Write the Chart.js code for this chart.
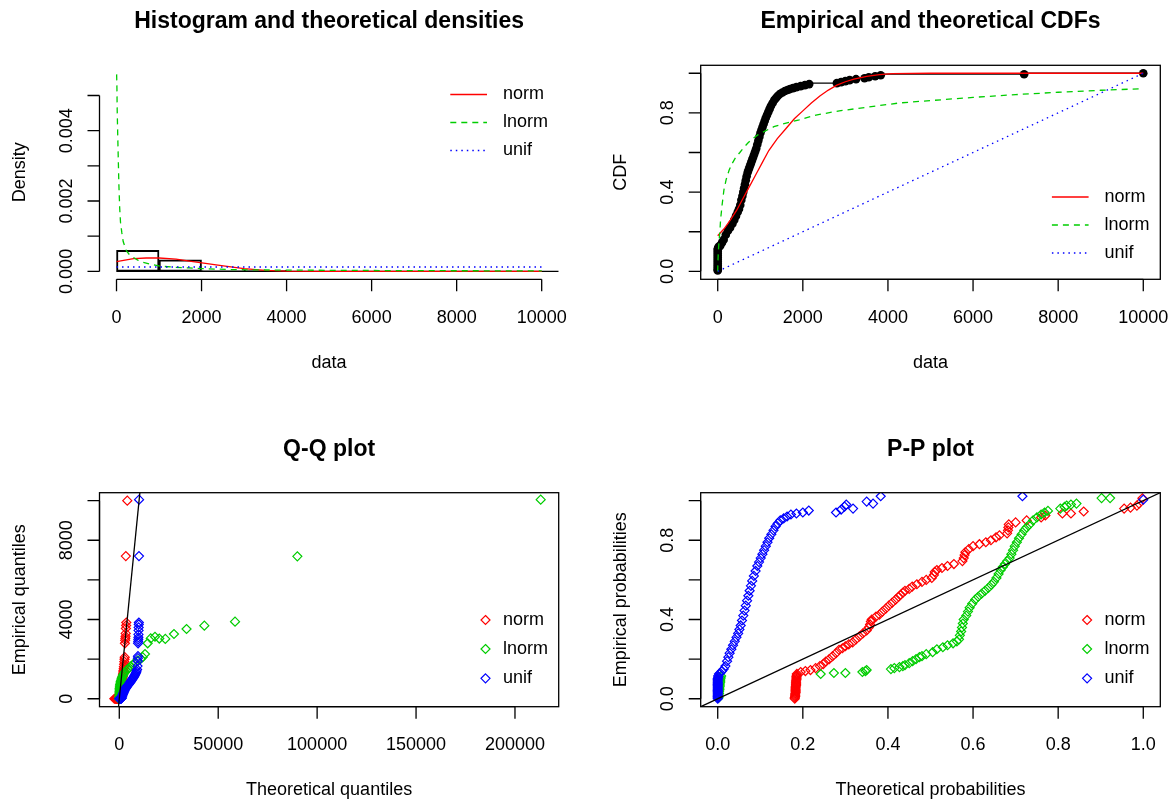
<!DOCTYPE html>
<html>
<head>
<meta charset="utf-8">
<script src="https://cdn.jsdelivr.net/npm/chart.js@4.4.1/dist/chart.umd.min.js"></script>
<style>
  html, body { margin: 0; padding: 0; background: #fff; }
  #page { position: relative; width: 1173px; height: 805px; overflow: hidden; background: #fff; }
  #page canvas { position: absolute; }
</style>
</head>
<body>
<div id="page">
  <canvas id="panelDens" width="586" height="420" style="left:0;top:0"></canvas>
  <canvas id="panelCdf" width="587" height="420" style="left:586px;top:0"></canvas>
  <canvas id="panelQQ" width="586" height="385" style="left:0;top:420px"></canvas>
  <canvas id="panelPP" width="587" height="385" style="left:586px;top:420px"></canvas>
</div>
<script>
// ---- values ----
const distNames = ['norm', 'lnorm', 'unif'];

// histogram: bin edges and bar densities
const histBreaks = [0, 1000, 2000, 3000, 4000, 5000, 6000, 7000, 8000, 9000, 10000];
const histDensity = [0.0006, 0.00033, 0.00002, 0.00003, 0, 0, 0, 0.000005, 0, 0.000005];

// fitted densities [data, density]
const densNorm = [[0, 0.00028], [200, 0.00032], [400, 0.00036], [700, 0.00038], [1000, 0.00038], [1400, 0.00035],
  [1800, 0.00028], [2300, 0.00019], [2600, 0.00014], [3000, 0.00008], [3500, 0.00003], [4000, 0.00001], [5000, 0], [10000, 0]];
const densLnorm = [[3, 0.0056], [10, 0.0052], [16, 0.0046], [30, 0.0038], [55, 0.0025], [75, 0.0018], [94, 0.0014],
  [125, 0.0011], [157, 0.00085], [200, 0.0007], [235, 0.00058], [300, 0.00048], [392, 0.0004], [500, 0.00032],
  [627, 0.00026], [784, 0.00021], [1020, 0.00015], [1333, 0.00012], [1700, 0.0001], [1961, 0.00008], [2745, 0.00005],
  [3500, 0.00004], [5000, 0.00003], [7000, 0.00002], [10000, 0.000015]];
const densUnif = [[0, 0.000125], [10000, 0.000125]];
const densBase = [[0, 0], [10400, 0]];

// empirical CDF [data, probability]
const ecdfPoints = [[0, 0.005], [0, 0.01], [0, 0.02], [0, 0.03], [0, 0.04], [0, 0.05], [0, 0.06], [0, 0.07], [0, 0.08],
  [0, 0.09], [0, 0.1], [0, 0.11], [5, 0.115], [15, 0.12], [30, 0.125], [60, 0.13], [100, 0.145], [140, 0.16], [190, 0.185],
  [240, 0.205], [290, 0.22], [345, 0.24], [390, 0.26], [430, 0.28], [470, 0.3], [500, 0.315], [530, 0.335], [555, 0.36],
  [580, 0.38], [600, 0.4], [620, 0.42], [640, 0.44], [660, 0.46], [680, 0.48], [705, 0.5], [730, 0.515], [755, 0.53],
  [780, 0.545], [805, 0.56], [830, 0.575], [855, 0.59], [880, 0.605], [905, 0.62], [930, 0.64], [955, 0.66], [980, 0.68],
  [1005, 0.7], [1030, 0.715], [1055, 0.73], [1080, 0.745], [1105, 0.76], [1130, 0.775], [1160, 0.79], [1190, 0.805],
  [1220, 0.82], [1250, 0.835], [1290, 0.85], [1330, 0.865], [1370, 0.875], [1410, 0.885], [1460, 0.895], [1520, 0.903],
  [1580, 0.91], [1640, 0.915], [1700, 0.92], [1770, 0.925], [1850, 0.93], [1950, 0.935], [2050, 0.94], [2150, 0.945],
  [2800, 0.95], [2900, 0.955], [3000, 0.96], [3100, 0.965], [3250, 0.97], [3450, 0.975], [3550, 0.98], [3700, 0.985],
  [3830, 0.99], [7200, 0.995], [10000, 1.0]];

// fitted CDFs [data, probability]
const cdfNorm = [[0, 0.18], [150, 0.215], [300, 0.26], [450, 0.31], [600, 0.37], [750, 0.43], [900, 0.49], [1050, 0.55],
  [1200, 0.61], [1400, 0.67], [1600, 0.72], [1800, 0.77], [2000, 0.81], [2200, 0.85], [2400, 0.885], [2600, 0.915],
  [2800, 0.94], [3000, 0.957], [3200, 0.97], [3500, 0.984], [3800, 0.993], [4100, 0.998], [5000, 1], [10000, 1]];
const cdfLnorm = [[0, 0], [5, 0.05], [15, 0.1], [30, 0.15], [50, 0.2], [67, 0.26], [100, 0.33], [145, 0.41], [200, 0.465],
  [267, 0.51], [340, 0.545], [424, 0.576], [520, 0.6], [620, 0.627], [720, 0.65], [816, 0.669], [950, 0.69], [1130, 0.71],
  [1320, 0.73], [1523, 0.744], [1916, 0.765], [2309, 0.789], [2858, 0.81], [3485, 0.828], [4270, 0.85], [5000, 0.862],
  [6000, 0.878], [7000, 0.892], [8000, 0.904], [9000, 0.914], [10000, 0.922]];
const cdfUnif = [[0, 0], [10000, 1]];

// Q-Q plot [theoretical quantile, empirical quantile]
const qqNorm = [[-2500, 0], [-2100, 0], [-1800, 0], [-1600, 0], [-1400, 0], [-1250, 5], [-1100, 5], [-950, 8], [-800, 10],
  [-650, 15], [-500, 20], [-350, 25], [-250, 30], [-150, 60], [-50, 100], [50, 140], [150, 190], [250, 240], [350, 290],
  [450, 340], [550, 400], [650, 460], [750, 520], [850, 580], [950, 640], [1050, 700], [1150, 760], [1250, 820], [1350, 880],
  [1450, 940], [1550, 1000], [1650, 1060], [1750, 1130], [1850, 1200], [1950, 1270], [2050, 1350], [2150, 1430],
  [2250, 1520], [2350, 1620], [2450, 1740], [2550, 1870], [2650, 2000], [2750, 2100], [2850, 2800], [2950, 2950],
  [3050, 3050], [3150, 3150], [3250, 3300], [3350, 3550], [3450, 3700], [3550, 3850], [3300, 7200], [4050, 10000]];
const qqLnorm = [[0, 0], [1, 5], [3, 10], [6, 15], [10, 20], [15, 25], [20, 30], [30, 80], [45, 150], [60, 220], [80, 300],
  [110, 380], [150, 450], [200, 520], [270, 590], [350, 650], [450, 720], [570, 790], [720, 860], [900, 930], [1100, 1000],
  [1350, 1070], [1650, 1140], [2000, 1210], [2400, 1280], [2900, 1350], [3500, 1420], [4200, 1490], [5000, 1560],
  [5900, 1640], [6900, 1730], [8000, 1830], [9200, 1930], [10800, 2010], [11800, 2100], [13000, 2260], [14350, 2800],
  [15870, 3050], [18050, 3130], [20220, 3040], [23260, 3020], [27650, 3270], [34000, 3520], [43000, 3690], [58500, 3890],
  [90000, 7190], [213000, 10050]];
const qqUnif = [[0, 0], [150, 0], [300, 0], [450, 2], [600, 4], [750, 6], [900, 10], [1050, 15], [1200, 30], [1350, 90],
  [1500, 140], [1650, 190], [1800, 230], [2000, 270], [2200, 320], [2400, 370], [2600, 410], [2800, 450], [3000, 490],
  [3200, 520], [3400, 550], [3600, 580], [3800, 610], [4000, 640], [4250, 670], [4500, 700], [4750, 730], [5000, 760],
  [5250, 800], [5500, 830], [5750, 860], [6000, 900], [6250, 940], [6500, 980], [6750, 1010], [7000, 1050], [7250, 1090],
  [7500, 1130], [7750, 1180], [8000, 1220], [8250, 1270], [8500, 1330], [8750, 1400], [9000, 1480], [9200, 1650],
  [9350, 1900], [9400, 2050], [9450, 2150], [9500, 2800], [9550, 2900], [9600, 3000], [9650, 3100], [9700, 3250],
  [9750, 3450], [9800, 3600], [9850, 3750], [9900, 3850], [9950, 7200], [10000, 10050]];
const qqLine = [[-400, -400], [10500, 10500]];

// P-P plot [theoretical probability, empirical probability]
const ppNorm = [[0.181, 0], [0.181, 0.006], [0.182, 0.012], [0.182, 0.018], [0.182, 0.024], [0.183, 0.03], [0.183, 0.036],
  [0.183, 0.042], [0.183, 0.048], [0.183, 0.054], [0.183, 0.06], [0.184, 0.066], [0.184, 0.072], [0.184, 0.078],
  [0.184, 0.084], [0.184, 0.09], [0.185, 0.096], [0.185, 0.102], [0.185, 0.108], [0.185, 0.114], [0.186, 0.12],
  [0.186, 0.126], [0.195, 0.135], [0.206, 0.14], [0.218, 0.145], [0.23, 0.155], [0.24, 0.165], [0.248, 0.175],
  [0.254, 0.188], [0.262, 0.2], [0.27, 0.215], [0.278, 0.23], [0.285, 0.247], [0.293, 0.255], [0.3, 0.265], [0.308, 0.275],
  [0.317, 0.285], [0.325, 0.3], [0.333, 0.315], [0.341, 0.33], [0.35, 0.345], [0.355, 0.36], [0.358, 0.375], [0.36, 0.39],
  [0.362, 0.4], [0.372, 0.415], [0.38, 0.425], [0.387, 0.44], [0.395, 0.455], [0.402, 0.47], [0.41, 0.485], [0.418, 0.5],
  [0.425, 0.515], [0.43, 0.525], [0.435, 0.535], [0.44, 0.545], [0.45, 0.555], [0.457, 0.566], [0.468, 0.578],
  [0.48, 0.59], [0.49, 0.6], [0.503, 0.61], [0.508, 0.625], [0.51, 0.64], [0.515, 0.65], [0.527, 0.66], [0.54, 0.67],
  [0.555, 0.68], [0.575, 0.695], [0.578, 0.71], [0.58, 0.725], [0.582, 0.74], [0.59, 0.755], [0.6, 0.77], [0.615, 0.78],
  [0.63, 0.79], [0.642, 0.8], [0.654, 0.815], [0.662, 0.825], [0.68, 0.835], [0.682, 0.85], [0.683, 0.865], [0.684, 0.88],
  [0.7, 0.89], [0.726, 0.9], [0.76, 0.915], [0.77, 0.925], [0.81, 0.935], [0.83, 0.935], [0.86, 0.945], [0.955, 0.96],
  [0.97, 0.965], [0.985, 0.975], [0.99, 0.985], [0.998, 1.012]];
const ppLnorm = [[0.002, 0.005], [0.002, 0.015], [0.003, 0.025], [0.003, 0.035], [0.004, 0.045], [0.004, 0.055],
  [0.005, 0.065], [0.005, 0.075], [0.006, 0.085], [0.006, 0.095], [0.007, 0.105], [0.008, 0.115], [0.242, 0.125],
  [0.273, 0.13], [0.3, 0.13], [0.34, 0.135], [0.347, 0.14], [0.35, 0.145], [0.407, 0.15], [0.415, 0.155], [0.427, 0.16],
  [0.435, 0.165], [0.44, 0.17], [0.45, 0.18], [0.458, 0.19], [0.466, 0.2], [0.474, 0.21], [0.48, 0.215], [0.49, 0.225],
  [0.505, 0.235], [0.515, 0.25], [0.529, 0.26], [0.54, 0.27], [0.553, 0.28], [0.562, 0.29], [0.567, 0.3], [0.569, 0.32],
  [0.572, 0.34], [0.574, 0.36], [0.576, 0.38], [0.578, 0.4], [0.584, 0.42], [0.588, 0.44], [0.592, 0.46], [0.598, 0.48],
  [0.605, 0.5], [0.612, 0.515], [0.62, 0.53], [0.628, 0.545], [0.636, 0.56], [0.643, 0.575], [0.649, 0.59], [0.655, 0.61],
  [0.66, 0.63], [0.665, 0.65], [0.67, 0.665], [0.675, 0.68], [0.68, 0.695], [0.686, 0.71], [0.69, 0.73], [0.694, 0.75],
  [0.698, 0.77], [0.703, 0.79], [0.708, 0.81], [0.714, 0.83], [0.72, 0.85], [0.726, 0.865], [0.733, 0.88], [0.741, 0.9],
  [0.75, 0.915], [0.76, 0.93], [0.768, 0.94], [0.776, 0.948], [0.805, 0.96], [0.815, 0.968], [0.82, 0.975], [0.83, 0.98],
  [0.843, 0.985], [0.902, 1.013], [0.922, 1.013]];
const ppUnif = [[0, 0], [0, 0.006], [0, 0.012], [0, 0.018], [0, 0.024], [0, 0.03], [0, 0.036], [0, 0.042], [0, 0.048],
  [0, 0.054], [0, 0.06], [0, 0.066], [0, 0.072], [0, 0.078], [0, 0.084], [0, 0.09], [0, 0.096], [0, 0.102], [0.001, 0.108],
  [0.001, 0.115], [0.003, 0.125], [0.006, 0.13], [0.01, 0.14], [0.014, 0.15], [0.018, 0.165], [0.022, 0.19], [0.025, 0.21],
  [0.028, 0.23], [0.032, 0.25], [0.036, 0.27], [0.04, 0.29], [0.044, 0.31], [0.048, 0.33], [0.051, 0.35], [0.054, 0.37],
  [0.057, 0.395], [0.06, 0.42], [0.063, 0.445], [0.066, 0.47], [0.069, 0.495], [0.072, 0.52], [0.075, 0.545], [0.078, 0.57],
  [0.081, 0.595], [0.085, 0.62], [0.089, 0.645], [0.093, 0.67], [0.097, 0.69], [0.101, 0.71], [0.105, 0.73], [0.109, 0.75],
  [0.113, 0.77], [0.117, 0.79], [0.121, 0.81], [0.126, 0.83], [0.131, 0.85], [0.136, 0.87], [0.141, 0.885], [0.147, 0.9],
  [0.155, 0.91], [0.163, 0.92], [0.172, 0.93], [0.185, 0.935], [0.2, 0.94], [0.214, 0.95], [0.278, 0.94], [0.29, 0.955],
  [0.298, 0.97], [0.302, 0.98], [0.318, 0.96], [0.35, 0.995], [0.365, 0.985], [0.383, 1.022], [0.716, 1.022], [1.0, 1.005]];
const ppLine = [[-0.05, -0.05], [1.05, 1.05]];

// axis ticks and the labels R kept
const dataTicks = [0, 2000, 4000, 6000, 8000, 10000];
const dataTickLabels = ['0', '2000', '4000', '6000', '8000', '10000'];
const densTicks = [0, 0.001, 0.002, 0.003, 0.004, 0.005];
const densTickLabels = ['0.000', '', '0.002', '', '0.004', ''];
const probTicks = [0, 0.2, 0.4, 0.6, 0.8, 1.0];
const probTickLabelsY = ['0.0', '', '0.4', '', '0.8', ''];
const probTickLabelsX = ['0.0', '0.2', '0.4', '0.6', '0.8', '1.0'];
const qqXTicks = [0, 50000, 100000, 150000, 200000];
const qqXTickLabels = ['0', '50000', '100000', '150000', '200000'];
const qqYTicks = [0, 2000, 4000, 6000, 8000, 10000];
const qqYTickLabels = ['0', '', '4000', '', '8000', ''];

// ---- styling ----
const COLORS = ['#ff0000', '#00cd00', '#0000ff'];
const DASHES = [[], [6, 5], [1.5, 4]];
const FONT = '"Liberation Sans", Arial, Helvetica, sans-serif';
const LW = 1.3;
const MARK_R = 4.5;

const frames = {
  panelDens: { title: 'Histogram and theoretical densities', xTitle: 'data', yTitle: 'Density', box: false,
    xTicks: dataTicks, xLabels: dataTickLabels, yTicks: densTicks, yLabels: densTickLabels,
    legend: { kind: 'line', from: 'top', offsets: [29.2, 57.2, 85.2] } },
  panelCdf: { title: 'Empirical and theoretical CDFs', xTitle: 'data', yTitle: 'CDF', box: true,
    xTicks: dataTicks, xLabels: dataTickLabels, yTicks: probTicks, yLabels: probTickLabelsY,
    legend: { kind: 'line', from: 'bottom', offsets: [-82.3, -54.3, -26.3] } },
  panelQQ: { title: 'Q-Q plot', xTitle: 'Theoretical quantiles', yTitle: 'Empirical quantiles', box: true,
    xTicks: qqXTicks, xLabels: qqXTickLabels, yTicks: qqYTicks, yLabels: qqYTickLabels,
    legend: { kind: 'point', from: 'bottom', offsets: [-86.7, -57.7, -28.4] } },
  panelPP: { title: 'P-P plot', xTitle: 'Theoretical probabilities', yTitle: 'Empirical probabilities', box: true,
    xTicks: probTicks, xLabels: probTickLabelsX, yTicks: probTicks, yLabels: probTickLabelsY,
    legend: { kind: 'point', from: 'bottom', offsets: [-86.7, -57.7, -28.4] } },
};

function vText(ctx, text, x, y) {
  ctx.save();
  ctx.translate(x, y);
  ctx.rotate(-Math.PI / 2);
  ctx.textAlign = 'center';
  ctx.textBaseline = 'alphabetic';
  ctx.fillText(text, 0, 0);
  ctx.restore();
}

function diamond(ctx, x, y, r) {
  ctx.beginPath();
  ctx.moveTo(x, y - r);
  ctx.lineTo(x + r, y);
  ctx.lineTo(x, y + r);
  ctx.lineTo(x - r, y);
  ctx.closePath();
  ctx.stroke();
}

// R-style frame: axes only over the tick range, rotated y labels, title, legend
const rFrame = {
  id: 'rFrame',
  afterDraw(chart) {
    const f = frames[chart.canvas.id];
    const { ctx, chartArea: a } = chart;
    const sx = chart.scales.x;
    const sy = chart.scales.y;
    const xp = f.xTicks.map((v) => sx.getPixelForValue(v));
    const yp = f.yTicks.map((v) => sy.getPixelForValue(v));
    ctx.save();
    ctx.strokeStyle = '#000';
    ctx.fillStyle = '#000';
    ctx.lineWidth = LW;
    ctx.setLineDash([]);
    if (f.box) ctx.strokeRect(a.left, a.top, a.right - a.left, a.bottom - a.top);
    ctx.beginPath();
    ctx.moveTo(xp[0], a.bottom);
    ctx.lineTo(xp[xp.length - 1], a.bottom);
    xp.forEach((p) => { ctx.moveTo(p, a.bottom); ctx.lineTo(p, a.bottom + 12); });
    ctx.moveTo(a.left, yp[0]);
    ctx.lineTo(a.left, yp[yp.length - 1]);
    yp.forEach((p) => { ctx.moveTo(a.left, p); ctx.lineTo(a.left - 12, p); });
    ctx.stroke();

    ctx.font = `18px ${FONT}`;
    ctx.textAlign = 'center';
    ctx.textBaseline = 'alphabetic';
    f.xLabels.forEach((t, i) => { if (t) ctx.fillText(t, xp[i], a.bottom + 43.4); });
    ctx.fillText(f.xTitle, (a.left + a.right) / 2, a.bottom + 88.7);
    f.yLabels.forEach((t, i) => { if (t) vText(ctx, t, a.left - 27.8, yp[i]); });
    vText(ctx, f.yTitle, a.left - 74.5, (a.top + a.bottom) / 2);
    ctx.font = `bold 23px ${FONT}`;
    ctx.fillText(f.title, (a.left + a.right) / 2, a.top - 37);

    const lg = f.legend;
    const tx = a.right - 55.7;
    ctx.font = `18px ${FONT}`;
    ctx.textAlign = 'left';
    ctx.textBaseline = 'middle';
    distNames.forEach((name, i) => {
      const ly = (lg.from === 'top' ? a.top : a.bottom) + lg.offsets[i];
      ctx.strokeStyle = COLORS[i];
      if (lg.kind === 'line') {
        ctx.lineWidth = LW;
        ctx.setLineDash(DASHES[i]);
        ctx.beginPath();
        ctx.moveTo(tx - 52.7, ly);
        ctx.lineTo(tx - 16, ly);
        ctx.stroke();
        ctx.setLineDash([]);
      } else {
        ctx.lineWidth = 1.2;
        diamond(ctx, tx - 17.5, ly, MARK_R);
      }
      ctx.fillStyle = '#000';
      ctx.fillText(name, tx, ly);
    });
    ctx.restore();
  },
};

const pts = (pairs) => pairs.map(([x, y]) => ({ x, y }));

function curve(data, i, order) {
  return { type: 'line', data: pts(data), borderColor: COLORS[i], borderWidth: LW, borderDash: DASHES[i],
    pointRadius: 0, tension: 0, fill: false, order };
}

function dots(data, i, order) {
  return { type: 'scatter', data: pts(data), showLine: false, pointStyle: 'rectRot', pointRadius: MARK_R,
    pointBorderWidth: 1.2, borderColor: COLORS[i], backgroundColor: 'rgba(0,0,0,0)', order };
}

function blackLine(data, order) {
  return { type: 'line', data: pts(data), borderColor: '#000', borderWidth: LW, pointRadius: 0, tension: 0,
    fill: false, order };
}

function buildPanel(id, config) {
  const f = frames[id];
  return new Chart(document.getElementById(id), {
    type: 'scatter',
    data: { datasets: config.datasets },
    options: {
      responsive: false,
      animation: false,
      events: [],
      devicePixelRatio: 1,
      layout: { padding: config.padding },
      scales: {
        x: { type: 'linear', display: false, offset: false, min: config.xRange[0], max: config.xRange[1],
          afterBuildTicks: (scale) => { scale.ticks = f.xTicks.map((value) => ({ value })); } },
        y: { type: 'linear', display: false, offset: false, min: config.yRange[0], max: config.yRange[1] },
      },
      plugins: { legend: { display: false }, tooltip: { enabled: false } },
    },
    plugins: [rFrame],
  });
}

const histBars = histDensity.map((d, i) => ({ x: (histBreaks[i] + histBreaks[i + 1]) / 2, y: d }));

buildPanel('panelDens', {
  padding: { left: 99.5, top: 65.3, right: 27.3, bottom: 140.7 },
  xRange: [-400, 10400],
  yRange: [-0.000225, 0.005858],
  datasets: [
    { type: 'bar', data: histBars, borderColor: '#000', borderWidth: LW, backgroundColor: 'rgba(0,0,0,0)',
      borderSkipped: false, barPercentage: 1, categoryPercentage: 1, order: 10 },
    blackLine(densBase, 9),
    curve(densNorm, 0, 3),
    curve(densLnorm, 1, 2),
    curve(densUnif, 2, 1),
  ],
});

buildPanel('panelCdf', {
  padding: { left: 114.7, top: 65.3, right: 12.7, bottom: 140.7 },
  xRange: [-400, 10400],
  yRange: [-0.04, 1.04],
  datasets: [
    { type: 'line', data: pts(ecdfPoints), stepped: 'after', borderColor: '#000', borderWidth: LW, pointRadius: 4.3,
      pointStyle: 'circle', pointBackgroundColor: '#000', pointBorderColor: '#000', pointBorderWidth: 0, fill: false,
      order: 10 },
    curve(cdfNorm, 0, 3),
    curve(cdfLnorm, 1, 2),
    curve(cdfUnif, 2, 1),
  ],
});

buildPanel('panelQQ', {
  padding: { left: 99.5, top: 72.7, right: 27.3, bottom: 98.3 },
  xRange: [-10000, 222100],
  yRange: [-400, 10400],
  datasets: [
    dots(qqNorm, 0, 3),
    dots(qqLnorm, 1, 2),
    dots(qqUnif, 2, 1),
    blackLine(qqLine, 0),
  ],
});

buildPanel('panelPP', {
  padding: { left: 114.7, top: 72.7, right: 12.7, bottom: 98.3 },
  xRange: [-0.04, 1.04],
  yRange: [-0.04, 1.04],
  datasets: [
    dots(ppNorm, 0, 3),
    dots(ppLnorm, 1, 2),
    dots(ppUnif, 2, 1),
    blackLine(ppLine, 0),
  ],
});
</script>
</body>
</html>
